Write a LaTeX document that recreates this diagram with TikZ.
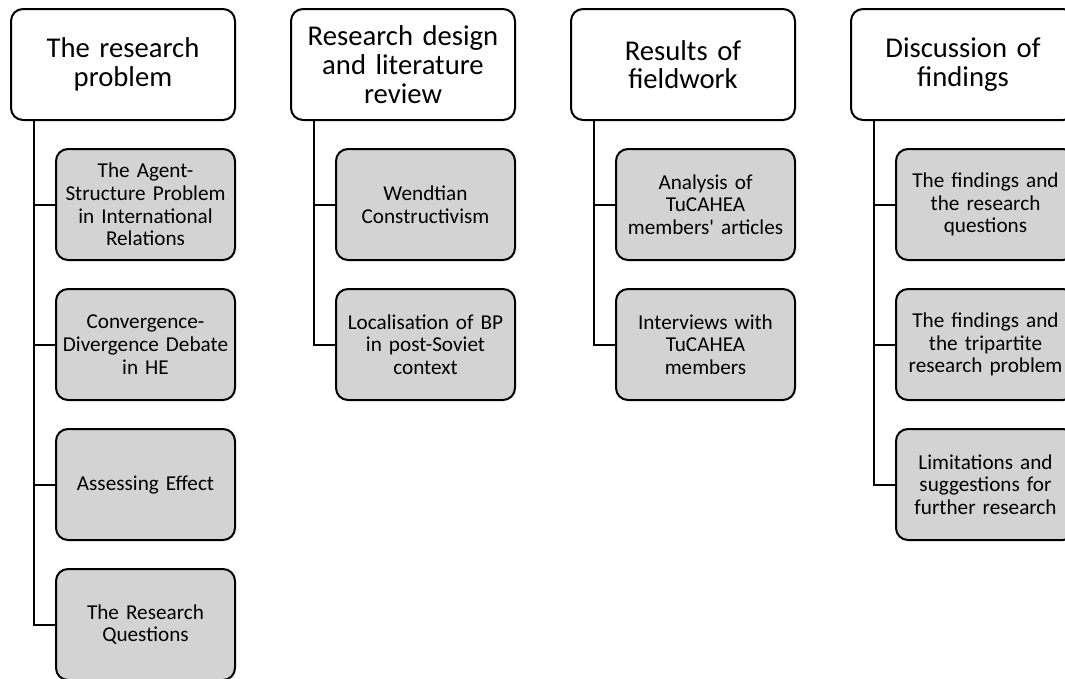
\documentclass[tikz,border=0pt]{standalone}
\usepackage{fontspec}
\setmainfont{Carlito}
\usetikzlibrary{positioning}
\definecolor{boxgray}{RGB}{211,211,211}

\begin{document}
\begin{tikzpicture}[
  x=1pt, y=1pt, line width=1.5pt,
  head/.style={draw, rounded corners=9pt, align=center, inner sep=4pt,
               text width=160pt, minimum height=83.25pt,
               font=\fontsize{21.5pt}{21.5pt}\selectfont},
  item/.style={draw, fill=boxgray, rounded corners=9pt, align=center,
               inner sep=4pt, text width=126.25pt, minimum height=83.25pt,
               font=\fontsize{15.9pt}{17pt}\selectfont}
]
\useasboundingbox (0,0) rectangle (798.75,-509.25);

% chapter headings
\node[head, anchor=north west] (problem) at (7.5,-6) {The research\\problem};
\node[head, right=40.5pt of problem] (design) {Research design\\and literature\\review};
\node[head, right=40.5pt of design] (results) {Results of\\fieldwork};
\node[head, right=40.5pt of results] (discussion) {Discussion of\\findings};

% sections of chapter 1
\node[item, below right=20.25pt and 33.75pt of problem.south west] (agent)
  {The Agent-\\Structure Problem\\in International\\Relations};
\node[item, below=20.25pt of agent] (converge)
  {Convergence-\\Divergence Debate\\in HE};
\node[item, below=20.25pt of converge] (effect) {Assessing Effect};
\node[item, below=20.25pt of effect] (questions) {The Research\\Questions};

% sections of chapter 2
\node[item, below right=20.25pt and 33.75pt of design.south west] (wendt)
  {Wendtian\\Constructivism};
\node[item, below=20.25pt of wendt] (local)
  {Localisation of BP\\in post-Soviet\\context};

% sections of chapter 3
\node[item, below right=20.25pt and 33.75pt of results.south west] (articles)
  {Analysis of\\TuCAHEA\\members\textquotesingle{} articles};
\node[item, below=20.25pt of articles] (interviews)
  {Interviews with\\TuCAHEA\\members};

% sections of chapter 4
\node[item, below right=20.25pt and 33.75pt of discussion.south west] (findrq)
  {The findings and\\the research\\questions};
\node[item, below=20.25pt of findrq] (findtri)
  {The findings and\\the tripartite\\research problem};
\node[item, below=20.25pt of findtri] (limits)
  {Limitations and\\suggestions for\\further research};

% spines
\coordinate (problem-spine) at ([xshift=18pt]problem.south west);
\coordinate (design-spine) at ([xshift=18pt]design.south west);
\coordinate (results-spine) at ([xshift=18pt]results.south west);
\coordinate (discussion-spine) at ([xshift=18pt]discussion.south west);

\draw (problem-spine) |- (agent.west);
\draw (problem-spine) |- (converge.west);
\draw (problem-spine) |- (effect.west);
\draw (problem-spine) |- (questions.west);
\draw (design-spine) |- (wendt.west);
\draw (design-spine) |- (local.west);
\draw (results-spine) |- (articles.west);
\draw (results-spine) |- (interviews.west);
\draw (discussion-spine) |- (findrq.west);
\draw (discussion-spine) |- (findtri.west);
\draw (discussion-spine) |- (limits.west);
\end{tikzpicture}
\end{document}
